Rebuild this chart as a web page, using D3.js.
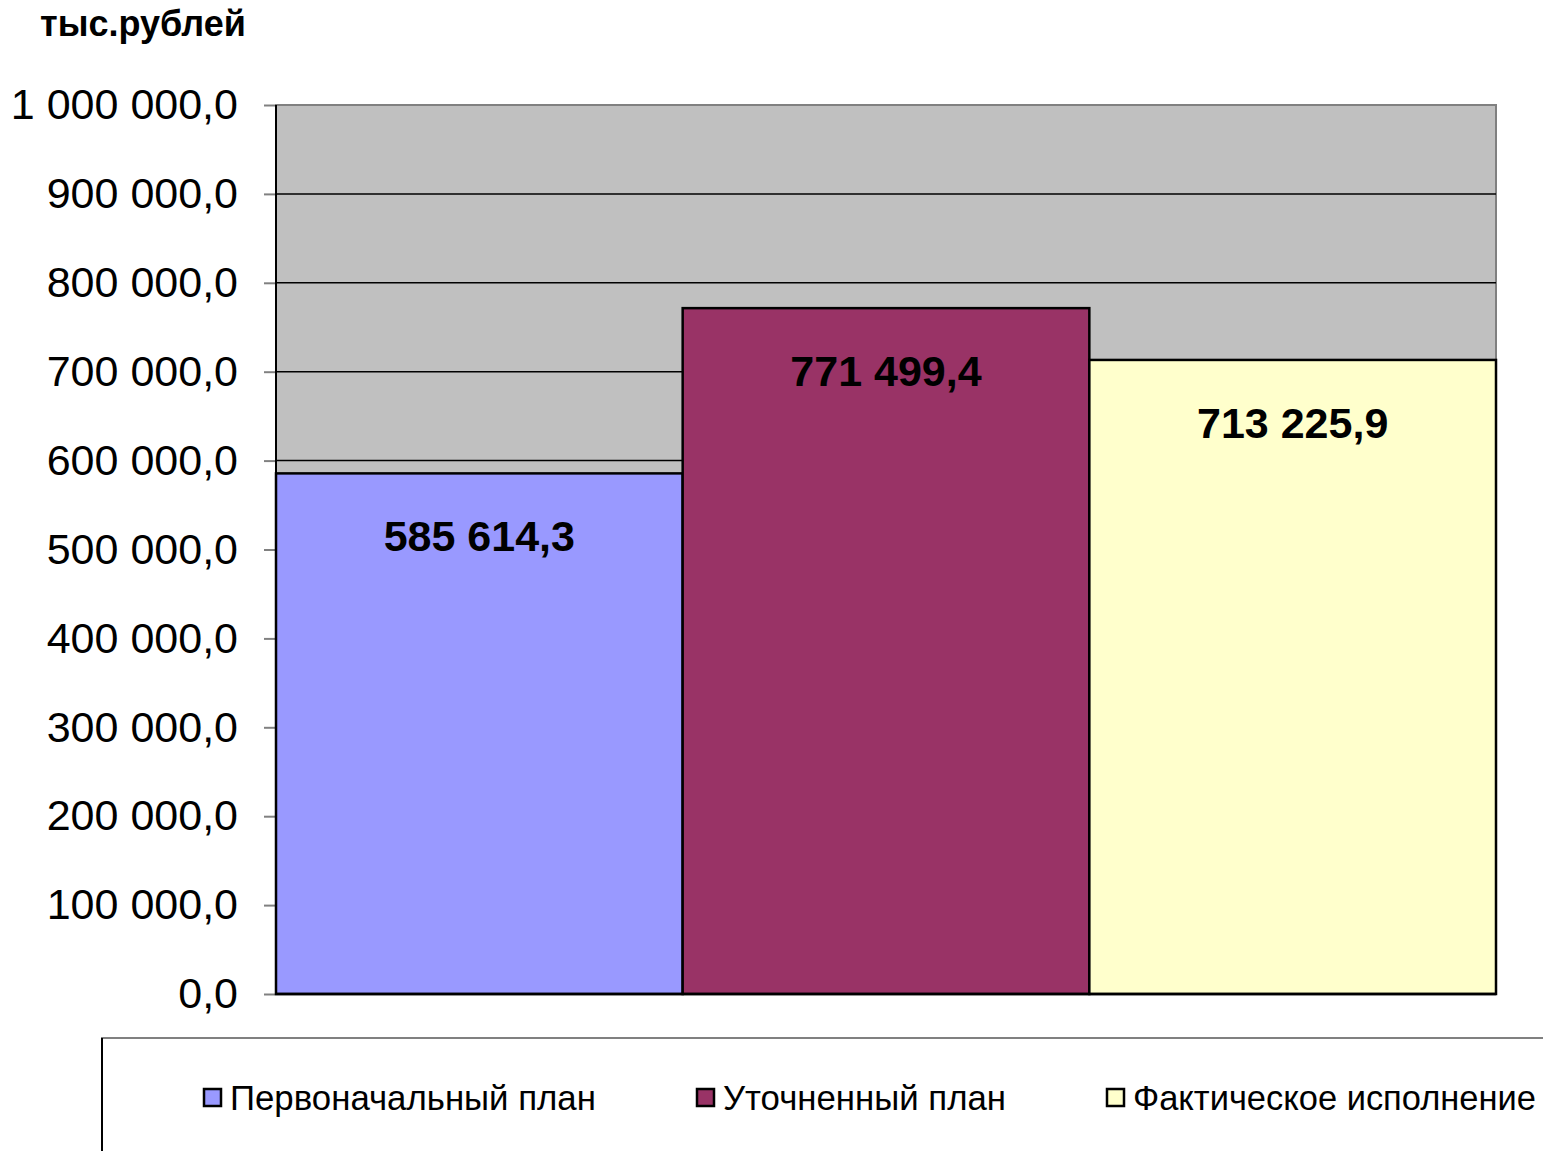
<!DOCTYPE html>
<html>
<head>
<meta charset="utf-8">
<script src="https://cdn.jsdelivr.net/npm/d3@7"></script>
<style>
  html, body { margin: 0; padding: 0; background: #fff; }
  svg { display: block; font-family: "Liberation Sans", Arial, sans-serif; }
</style>
</head>
<body>
<svg id="chart" width="1543" height="1151"></svg>
<script>
const categories = ["Первоначальный план", "Уточненный план", "Фактическое исполнение"];
const values = [585614.3, 771499.4, 713225.9];
const colors = ["#9999FF", "#993366", "#FFFFCC"];
const yTicks = [0, 100000, 200000, 300000, 400000, 500000, 600000, 700000, 800000, 900000, 1000000];
const unitLabel = "тыс.рублей";

(function () {
const ru = d3.formatLocale({decimal: ",", thousands: " ", grouping: [3], currency: ["", ""]});
const fmt = ru.format(",.1f");

const svg = d3.select("#chart");
const pLeft = 276, pRight = 1496, pTop = 105, pBottom = 994;

const x = d3.scaleBand().domain(categories).range([pLeft, pRight]).padding(0);
const y = d3.scaleLinear().domain([0, 1000000]).range([pBottom, pTop]);

// plot background
svg.append("rect")
  .attr("x", pLeft).attr("y", pTop)
  .attr("width", pRight - pLeft).attr("height", pBottom - pTop)
  .attr("fill", "#C0C0C0")
  .attr("stroke", "#808080").attr("stroke-width", 2);

// gridlines
svg.append("g").selectAll("line")
  .data(yTicks.filter(d => d > 0 && d < 1000000))
  .join("line")
  .attr("x1", pLeft).attr("x2", pRight)
  .attr("y1", d => y(d)).attr("y2", d => y(d))
  .attr("stroke", "#000").attr("stroke-width", 1.5);

// y axis
const yAxis = d3.axisLeft(y).tickValues(yTicks).tickFormat(fmt).tickSize(12).tickPadding(26);
const ga = svg.append("g").attr("transform", `translate(${pLeft},0)`).call(yAxis);
ga.select(".domain").remove();
ga.selectAll(".tick line").attr("stroke", "#808080").attr("stroke-width", 2);
ga.selectAll(".tick text")
  .attr("font-size", 43).attr("fill", "#000")
  .attr("font-family", "'Liberation Sans', Arial, sans-serif");

// bars
svg.append("g").selectAll("rect")
  .data(categories)
  .join("rect")
  .attr("x", d => x(d))
  .attr("y", (d, i) => y(values[i]))
  .attr("width", x.bandwidth())
  .attr("height", (d, i) => y(0) - y(values[i]))
  .attr("fill", (d, i) => colors[i])
  .attr("stroke", "#000").attr("stroke-width", 2.5);

// left axis line and bottom axis line
svg.append("line").attr("x1", pLeft).attr("x2", pLeft).attr("y1", pTop).attr("y2", pBottom)
  .attr("stroke", "#000").attr("stroke-width", 2);
svg.append("line").attr("x1", pLeft).attr("x2", pRight).attr("y1", pBottom).attr("y2", pBottom)
  .attr("stroke", "#000").attr("stroke-width", 2.5);

// data labels
svg.append("g").selectAll("text")
  .data(categories)
  .join("text")
  .attr("x", d => x(d) + x.bandwidth() / 2)
  .attr("y", (d, i) => y(values[i]) + 78)
  .attr("text-anchor", "middle")
  .attr("font-size", 43).attr("font-weight", "bold").attr("fill", "#000")
  .text((d, i) => fmt(values[i]));

// unit label
svg.append("text")
  .attr("x", 40).attr("y", 36)
  .attr("font-size", 36).attr("font-weight", "bold").attr("fill", "#000")
  .text(unitLabel);

// legend box
svg.append("path")
  .attr("d", "M102,1160 L102,1038 L1560,1038")
  .attr("fill", "none").attr("stroke", "#808080").attr("stroke-width", 2);
svg.append("line").attr("x1", 102).attr("x2", 102).attr("y1", 1038).attr("y2", 1160)
  .attr("stroke", "#000").attr("stroke-width", 2);

const legendX = [204, 697, 1107];
const legendW = [366, 283, 403];
const lg = svg.append("g").selectAll("g")
  .data(categories)
  .join("g");
lg.append("rect")
  .attr("x", (d, i) => legendX[i]).attr("y", 1089)
  .attr("width", 17).attr("height", 17)
  .attr("fill", (d, i) => colors[i])
  .attr("stroke", "#000").attr("stroke-width", 2.5);
lg.append("text")
  .attr("x", (d, i) => legendX[i] + 26).attr("y", 1110)
  .attr("font-size", 36).attr("fill", "#000")
  .text(d => d)
  .each(function (d, i) {
    const len = this.getComputedTextLength();
    if (len > 0) d3.select(this).attr("font-size", 36 * legendW[i] / len);
  });
})();
</script>
</body>
</html>
